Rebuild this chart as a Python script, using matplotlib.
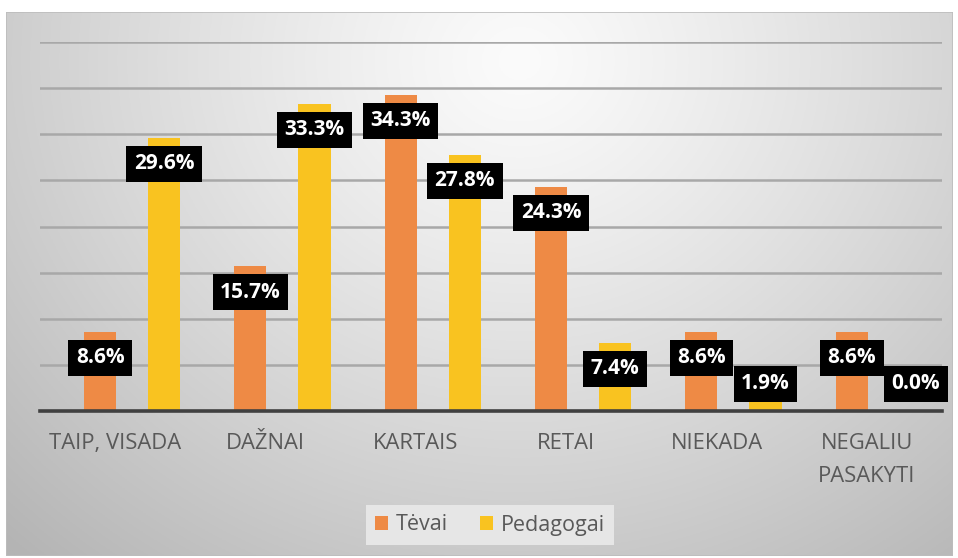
import numpy as np
import matplotlib
matplotlib.use("Agg")
import matplotlib.pyplot as plt
from matplotlib.patches import Rectangle, Patch

categories = ['TAIP, VISADA', 'DAŽNAI', 'KARTAIS', 'RETAI', 'NIEKADA', 'NEGALIU\nPASAKYTI']
tevai = [8.6, 15.7, 34.3, 24.3, 8.6, 8.6]
pedagogai = [29.6, 33.3, 27.8, 7.4, 1.9, 0.0]
series_names = ['Tėvai', 'Pedagogai']
yticks = [0, 5, 10, 15, 20, 25, 30, 35, 40]

c_orange = '#EE8A45'
c_yellow = '#F9C320'
font = ['Open Sans', 'DejaVu Sans']
plt.rcParams['font.family'] = font

W, H = 958, 558
fig = plt.figure(figsize=(W / 100, H / 100), dpi=100)
fig.patch.set_facecolor('white')

# background panel with radial gradient
x0, x1, y0, y1 = 6, 953, 12, 556
bg = fig.add_axes([x0 / W, 1 - y1 / H, (x1 - x0) / W, (y1 - y0) / H])
bg.set_axis_off()
gx = np.linspace(x0, x1, 400)
gy = np.linspace(y0, y1, 240)
GX, GY = np.meshgrid(gx, gy)
r = np.sqrt(((GX - 520) / 500) ** 2 + ((GY - 60) / 450) ** 2)
val = np.clip(251 - 44 * r ** 1.2, 180, 252) / 255.0
img = np.dstack([val, val, val])
bg.imshow(img, extent=[0, 1, 0, 1], aspect='auto', origin='upper', zorder=0)
bg.add_patch(Rectangle((0, 0), 1, 1, transform=bg.transAxes, fill=False,
                       edgecolor='#BDBDBD', lw=1.2, zorder=2))
bg.set_xlim(0, 1)
bg.set_ylim(0, 1)

# main axes
ax = fig.add_axes([40 / W, 1 - 411 / H, (942 - 40) / W, (411 - 42) / H])
ax.patch.set_alpha(0)
n = len(categories)
x = np.arange(n)
bw = 0.213
off_o, off_y = -0.10, 0.326
ax.bar(x + off_o, tevai, width=bw, color=c_orange, zorder=3)
ax.bar(x + off_y, pedagogai, width=bw, color=c_yellow, zorder=3)

ax.set_xlim(-0.5, n - 0.5)
ax.set_ylim(0, 40)
ax.set_yticks(yticks)
ax.yaxis.grid(True, color='#A8A8A8', lw=1.8, zorder=1)
ax.set_axisbelow(True)
for s in ['left', 'right', 'top']:
    ax.spines[s].set_visible(False)
ax.spines['bottom'].set_color('#404040')
ax.spines['bottom'].set_linewidth(2.6)
ax.spines['bottom'].set_zorder(4)
ax.tick_params(axis='y', left=False, labelleft=False)
ax.set_xticks(x)
ax.set_xticklabels(categories, fontsize=15.8, color='#595959', linespacing=1.75)
ax.tick_params(axis='x', length=0, pad=16)

def label(xpos, v):
    yy = max(v, 5.75)
    ax.annotate(f'{v:.1f}%', xy=(xpos, yy), xytext=(0, -26 * 0.72),
                textcoords='offset points', ha='center', va='center',
                fontsize=15, fontweight='bold', color='white', zorder=6,
                bbox=dict(boxstyle='square,pad=0.36', fc='black', ec='none'))

for i in range(n):
    label(x[i] + off_o, tevai[i])
    label(x[i] + off_y, pedagogai[i])

handles = [Patch(facecolor=c_orange, edgecolor='none'),
           Patch(facecolor=c_yellow, edgecolor='none')]
leg = fig.legend(handles, series_names, loc='center', bbox_to_anchor=(490 / W, 1 - 525 / H),
                 ncol=2, frameon=True, fontsize=15.5, handlelength=0.6, handleheight=0.6,
                 handletextpad=0.35, columnspacing=1.5, borderpad=0.45, fancybox=False)
leg.get_frame().set_facecolor('#E6E6E6')
leg.get_frame().set_edgecolor('none')
leg.get_frame().set_alpha(1)
for t in leg.get_texts():
    t.set_color('#595959')

fig.savefig('out.png', dpi=100, facecolor='white')
